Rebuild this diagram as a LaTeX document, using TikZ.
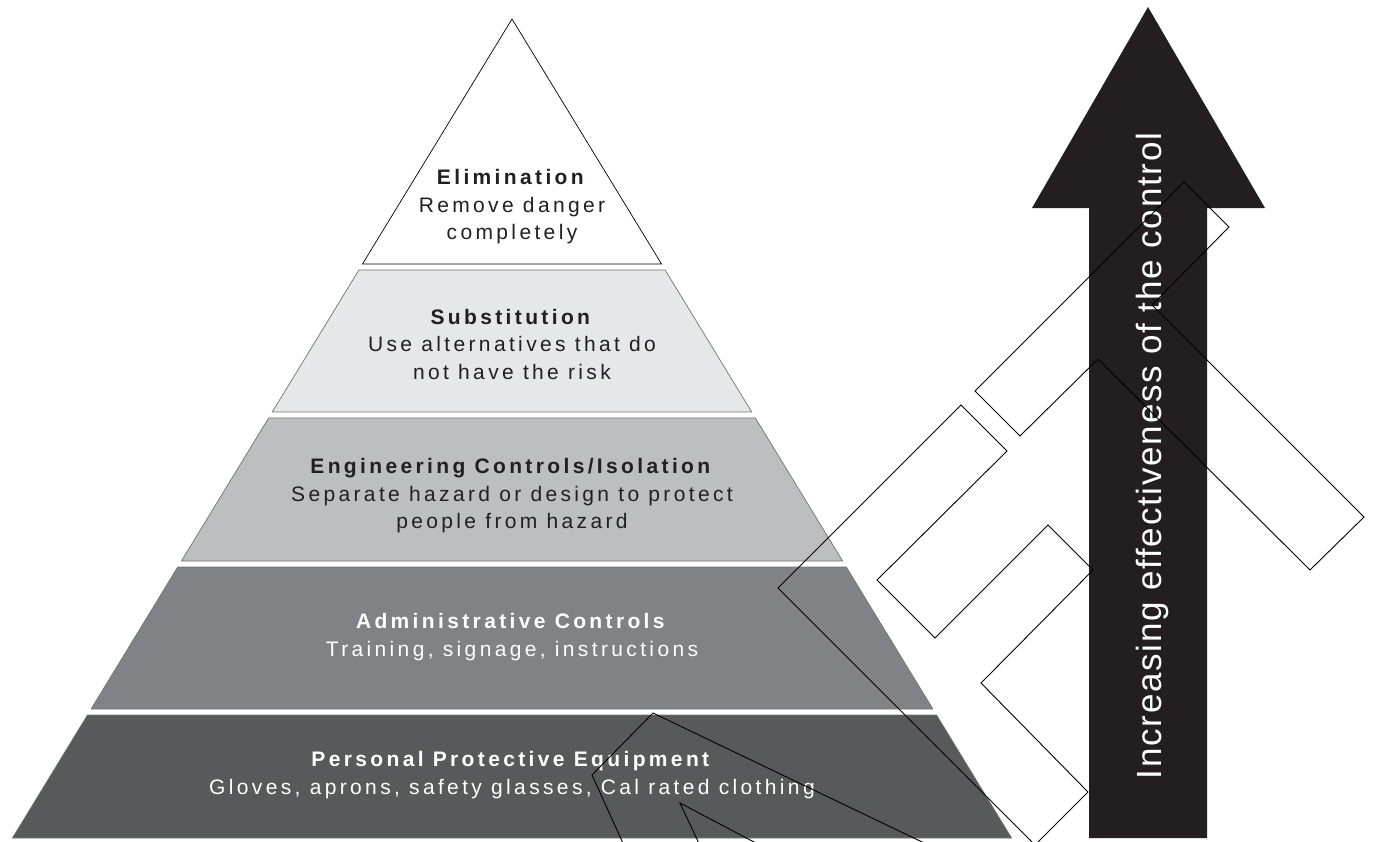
\documentclass[tikz,border=0pt]{standalone}
\usepackage{fontspec}
\setmainfont{Liberation Sans}
\newfontfamily\pyrfont{Liberation Sans}[LetterSpace=16]
\newfontfamily\arrfont{Liberation Sans}[LetterSpace=5]
\definecolor{inkblack}{HTML}{231F20}
\definecolor{layerB}{HTML}{E6E7E8}
\definecolor{layerC}{HTML}{BCBEC0}
\definecolor{layerD}{HTML}{808285}
\definecolor{layerE}{HTML}{58595B}
\begin{document}
\begin{tikzpicture}[x=1pt, y=-1pt,
        layer/.style={draw=black!55, line width=0.7pt},
        lbl/.style={align=center, inner sep=0pt, font=\pyrfont\fontsize{21}{27.5}\selectfont},
        outline/.style={draw=black, line width=0.9pt, line join=miter},
      ]
        \useasboundingbox (0,0) rectangle (1373,841);

        % Pyramid layers
        \filldraw[fill=white, draw=black, line width=0.7pt] (512,19) -- (661.5,264) -- (362.5,264) -- cycle;
        \foreach \yt/\yb/\col in {270/412/layerB, 418/561/layerC, 567/709/layerD, 715/838/layerE}
          \filldraw[layer, fill=\col] ({512-0.61*(\yt-19)},\yt) -- ({512+0.61*(\yt-19)},\yt)
            -- ({512+0.61*(\yb-19)},\yb) -- ({512-0.61*(\yb-19)},\yb) -- cycle;

        % Labels
        \node[lbl, text=inkblack] (elim)  at (512,207) {\textbf{Elimination}\\Remove danger\\completely};
        \node[lbl, text=inkblack] (subst) at (512,344) {\textbf{Substitution}\\Use alternatives that do\\not have the risk};
        \node[lbl, text=inkblack] (eng)   at (512,496) {\textbf{Engineering Controls/Isolation}\\Separate hazard or design to protect\\people from hazard};
        \node[lbl, text=white]    (admin) at (512,637) {\textbf{Administrative Controls}\\Training, signage, instructions};
        \node[lbl, text=white]    (ppe)   at (512,775) {\textbf{Personal Protective Equipment}\\Gloves, aprons, safety glasses, Cal rated clothing};

        % Effectiveness arrow
        \fill[inkblack] (1148,7) -- (1265,208) -- (1207,208) -- (1207,838)
          -- (1089,838) -- (1089,208) -- (1032,208) -- cycle;
        \node[rotate=90, anchor=base, text=white, inner sep=0pt,
          font=\arrfont\fontsize{35}{42}\selectfont] (effect) at (1161,456)
          {Increasing effectiveness of the control};

        % Stray outlines
        \begin{scope}
          \clip (0,0) rectangle (1373,841);
          \draw[outline] (975,391) -- (1184,182) -- (1229,227) -- (1152,305) -- (1364,517)
            -- (1310,570) -- (1098,359) -- (1020,436) -- cycle;
          \draw[outline] (778,588) -- (961,405) -- (1007,451) -- (877,580) -- (935,638)
            -- (1048,525) -- (1093,570) -- (981,683) -- (1088,792) -- (1035,845) -- cycle;
          \draw[outline] (627,852) -- (592,775) -- (653,713) -- (943,852);
          \draw[outline] (703,852) -- (680,803) -- (773,852);
        \end{scope}
      \end{tikzpicture}
\end{document}
